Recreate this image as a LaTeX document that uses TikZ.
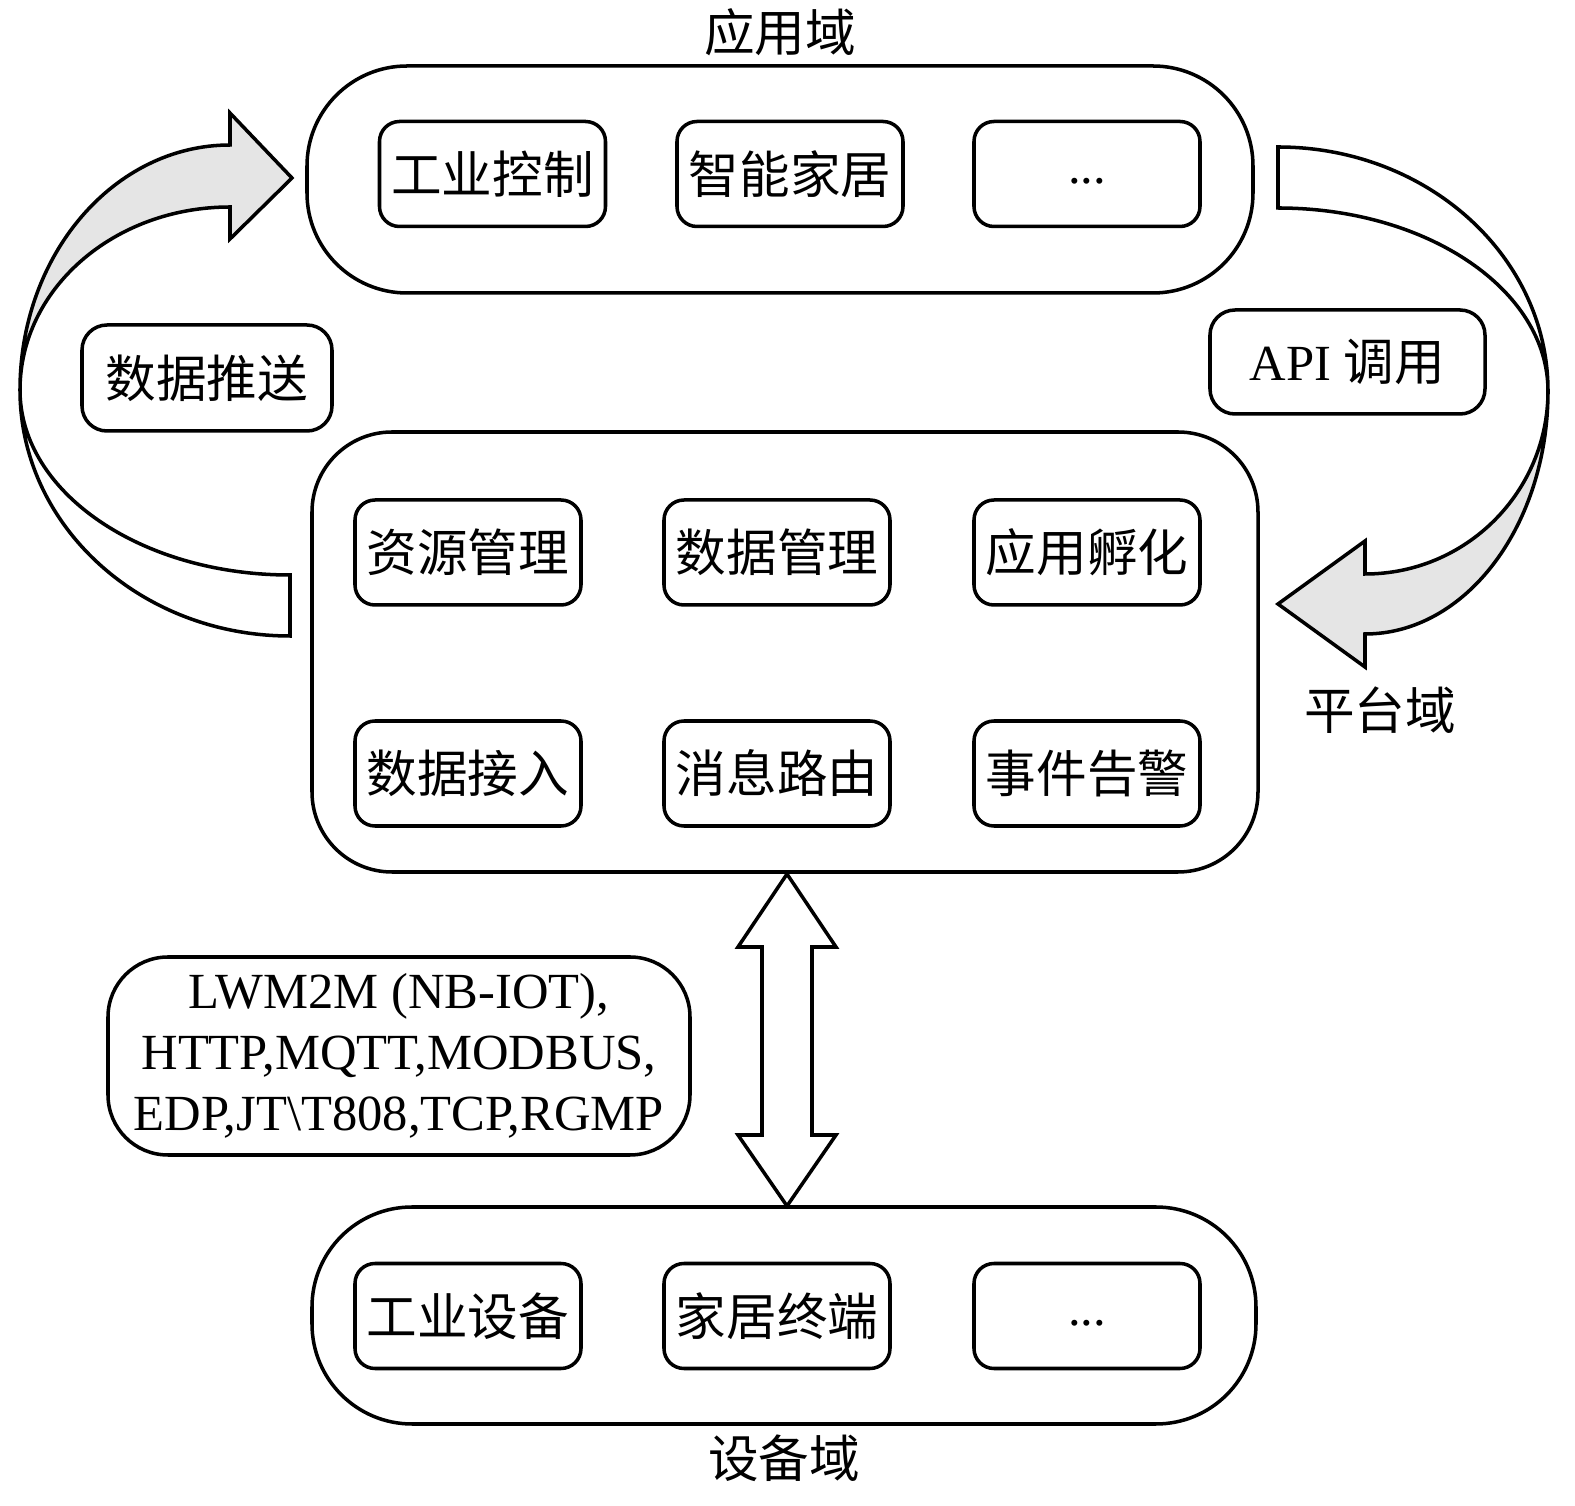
\documentclass[tikz,border=0pt]{standalone}
\usepackage{fontspec}
\setmainfont{Liberation Serif}
\newfontfamily\cjk{Noto Sans CJK SC}
\usetikzlibrary{positioning,calc}

\begin{document}
\begin{tikzpicture}[
    line width=1pt,
    every node/.style={font=\fontsize{14.4}{17.3}\selectfont},
    domainbox/.style={draw, rounded corners=1cm, fill=white},
    itembox/.style={draw, rounded corners=0.2cm, fill=white, minimum width=2.26cm, minimum height=1.05cm, inner sep=0pt},
    tagbox/.style={draw, rounded corners=0.25cm, fill=white, inner sep=0pt},
    ribbon/.style={draw, line join=miter}
]
    \useasboundingbox (0,0) rectangle (15.75,15.06);

    % left ribbon arrow (data push)
    \draw[ribbon, fill=black!10] (0.20,11.16) arc[start angle=180, end angle=90, x radius=2.10, y radius=2.45]
        -- (2.30,13.93) -- (2.92,13.28) -- (2.30,12.67) -- (2.30,12.99)
        arc[start angle=90, end angle=180, x radius=2.10, y radius=1.83] -- cycle;
    \draw[ribbon, fill=white] (0.20,11.16) arc[start angle=180, end angle=270, x radius=2.70, y radius=2.46]
        -- (2.90,9.31) arc[start angle=270, end angle=180, x radius=2.70, y radius=1.85] -- cycle;

    % right ribbon arrow (API call)
    \draw[ribbon, fill=white] (15.48,11.15) arc[start angle=0, end angle=90, x radius=2.70, y radius=2.44]
        -- (12.78,12.98) arc[start angle=90, end angle=0, x radius=2.70, y radius=1.83] -- cycle;
    \draw[ribbon, fill=black!10] (15.48,11.15) arc[start angle=0, end angle=-90, x radius=1.83, y radius=2.43]
        -- (13.65,8.39) -- (12.78,9.02) -- (13.65,9.65) -- (13.65,9.32)
        arc[start angle=-90, end angle=0, x radius=1.83, y radius=1.83] -- cycle;

    % application domain
    \node[domainbox, minimum width=9.46cm, minimum height=2.27cm] (app) at (7.80,13.265) {};
    \node[above=0cm of app, inner sep=2pt] (applabel) {\cjk 应用域};
    \node[itembox] (ctrl) at (4.925,13.32) {\cjk 工业控制};
    \node[itembox] (home) at (7.90,13.32) {\cjk 智能家居};
    \node[itembox] (appmore) at (10.87,13.32) {\raisebox{-0.1cm}[0pt][0pt]{...}};

    % platform domain
    \node[domainbox, rounded corners=0.8cm, minimum width=9.46cm, minimum height=4.40cm] (plat) at (7.85,8.54) {};
    \node (platlabel) at (13.80,7.96) {\cjk 平台域};
    \node[itembox] (res) at (4.68,9.535) {\cjk 资源管理};
    \node[itembox] (dmgr) at (7.77,9.535) {\cjk 数据管理};
    \node[itembox] (incub) at (10.87,9.535) {\cjk 应用孵化};
    \node[itembox] (access) at (4.68,7.325) {\cjk 数据接入};
    \node[itembox] (route) at (7.77,7.325) {\cjk 消息路由};
    \node[itembox] (alarm) at (10.87,7.325) {\cjk 事件告警};

    % device domain
    \node[domainbox, minimum width=9.44cm, minimum height=2.17cm] (dev) at (7.84,1.905) {};
    \node[below=0cm of dev, inner sep=2pt] (devlabel) {\cjk 设备域};
    \node[itembox] (indev) at (4.68,1.90) {\cjk 工业设备};
    \node[itembox] (term) at (7.77,1.90) {\cjk 家居终端};
    \node[itembox] (devmore) at (10.87,1.90) {\raisebox{-0.1cm}[0pt][0pt]{...}};

    % side labels
    \node[tagbox, minimum width=2.50cm, minimum height=1.06cm] (push) at (2.07,11.28) {\cjk 数据推送};
    \node[tagbox, minimum width=2.75cm, minimum height=1.04cm] (api) at (13.475,11.44) {API {\cjk 调用}};
    \node[tagbox, rounded corners=0.6cm, minimum width=5.82cm, minimum height=1.98cm, align=center] (proto) at (3.99,4.50)
        {LWM2M (NB-IOT),\\HTTP,MQTT,MODBUS,\\EDP,JT\textbackslash T808,TCP,RGMP};

    % double arrow between platform and devices
    \coordinate (dtop) at (7.87,6.32);
    \coordinate (dbot) at (7.87,3.00);
    \draw[ribbon, fill=white] (dtop) -- ++(0.49,-0.73) -- ++(-0.24,0) -- ($(dbot)+(0.25,0.71)$)
        -- ++(0.24,0) -- (dbot) -- ++(-0.49,0.71) -- ++(0.24,0) -- ($(dtop)+(-0.25,-0.73)$) -- ++(-0.24,0) -- cycle;

\end{tikzpicture}
\end{document}
